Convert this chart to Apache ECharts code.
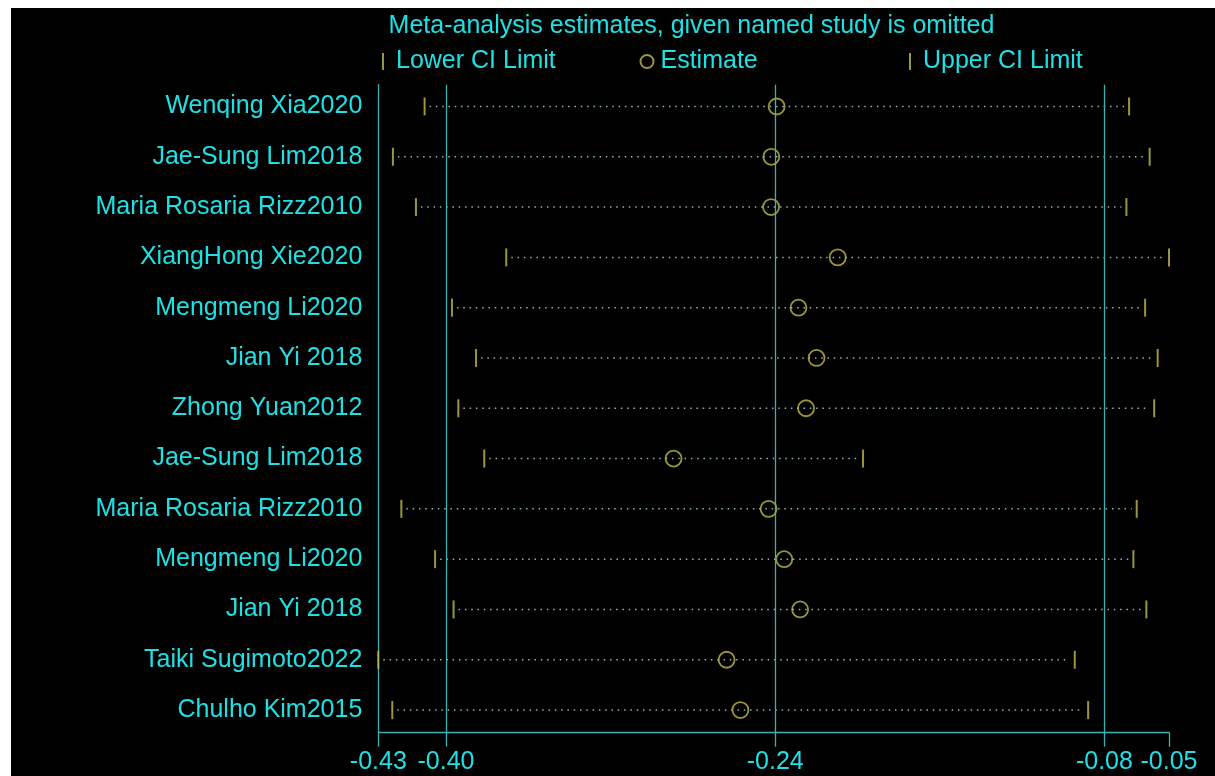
<!DOCTYPE html>
<html>
<head>
<meta charset="utf-8">
<script src="https://cdn.jsdelivr.net/npm/echarts@6/dist/echarts.min.js"></script>
<style>
  html, body { margin: 0; padding: 0; background: #fff; width: 1215px; height: 776px; overflow: hidden; }
  #chart { position: absolute; left: 11px; top: 8px; width: 1204px; height: 768px; background: #000; }
</style>
</head>
<body>
<div id="chart"></div>
<script>
// Leave-one-out meta-analysis: pooled estimate and CI when each study is omitted
const studies = [
  'Wenqing Xia2020',
  'Jae-Sung Lim2018',
  'Maria Rosaria Rizz2010',
  'XiangHong Xie2020',
  'Mengmeng Li2020',
  'Jian Yi 2018',
  'Zhong Yuan2012',
  'Jae-Sung Lim2018',
  'Maria Rosaria Rizz2010',
  'Mengmeng Li2020',
  'Jian Yi 2018',
  'Taiki Sugimoto2022',
  'Chulho Kim2015'
];
const lowerCI  = [-0.4104, -0.4258, -0.4146, -0.3707, -0.3971, -0.3854, -0.3940, -0.3814, -0.4217, -0.4053, -0.3963, -0.4329, -0.4261];
const estimate = [-0.2393, -0.2419, -0.2420, -0.2096, -0.2287, -0.2199, -0.2250, -0.2894, -0.2432, -0.2356, -0.2279, -0.2636, -0.2569];
const upperCI  = [-0.0680, -0.0580, -0.0693, -0.0486, -0.0602, -0.0541, -0.0558, -0.1973, -0.0643, -0.0659, -0.0596, -0.0944, -0.0879];
// Full-data pooled result: lower limit, estimate, upper limit
const overallCI = [-0.40, -0.24, -0.08];

const xMin = Math.min(...lowerCI);
const xMax = Math.max(...upperCI);
const xTicks = [xMin, ...overallCI, xMax];
const rowIndex = studies.map((_, i) => i + 1);

const TEXT = '#1fe0e4';
const REF = '#3cb2b2';
const MARK = '#c2bb4c';
const DOT = '#8fb5ad';
const FONT = '"Liberation Sans", Arial, sans-serif';

const chart = echarts.init(document.getElementById('chart'));

const legendText = (pad) => ({ color: TEXT, fontSize: 25, fontFamily: FONT, padding: [0, 0, 0, pad] });

chart.setOption({
  backgroundColor: '#000',
  animation: false,
  title: {
    text: 'Meta-analysis estimates, given named study is omitted',
    left: 680.5,
    top: 6,
    padding: 0,
    textAlign: 'center',
    textStyle: { color: TEXT, fontSize: 25, fontWeight: 'normal', fontFamily: FONT }
  },
  legend: [
    { data: ['Lower CI Limit'], left: 371, top: 41, padding: 0, itemWidth: 2, itemHeight: 17,
      textStyle: legendText(7), selectedMode: false },
    { data: ['Estimate'], left: 628.5, top: 41, padding: 0, itemWidth: 13, itemHeight: 13,
      textStyle: legendText(2), selectedMode: false },
    { data: ['Upper CI Limit'], left: 898, top: 41, padding: 0, itemWidth: 2, itemHeight: 17,
      textStyle: legendText(7), selectedMode: false }
  ],
  grid: { left: 367.3, right: 46, top: 76.7, bottom: 43.3, containLabel: false },
  xAxis: {
    type: 'value',
    min: xMin,
    max: xMax,
    axisLine: { show: true, onZero: false, lineStyle: { color: REF, width: 1.3 } },
    axisTick: { show: true, length: 14, customValues: xTicks, lineStyle: { color: REF, width: 1.3 } },
    axisLabel: {
      customValues: xTicks,
      margin: 17,
      color: TEXT,
      fontSize: 25,
      fontFamily: FONT,
      formatter: (v) => v.toFixed(2)
    },
    splitLine: { show: false }
  },
  yAxis: {
    type: 'value',
    inverse: true,
    min: 0.567,
    max: 13.45,
    axisLine: { show: true, onZero: false, lineStyle: { color: REF, width: 1.3 } },
    axisTick: { show: false },
    axisLabel: {
      customValues: rowIndex,
      margin: 16,
      color: TEXT,
      fontSize: 25,
      fontFamily: FONT,
      formatter: (v) => studies[Math.round(v) - 1] || ''
    },
    splitLine: { show: false }
  },
  series: [
    {
      name: 'overall',
      type: 'line',
      data: [],
      z: 1,
      markLine: {
        silent: true,
        symbol: ['none', 'none'],
        label: { show: false },
        lineStyle: { color: REF, width: 1.3, type: 'solid' },
        data: overallCI.map((v) => ({ xAxis: v }))
      }
    },
    {
      name: 'ci',
      type: 'custom',
      z: 2,
      silent: true,
      encode: { x: [0, 1], y: 2 },
      data: studies.map((_, i) => [lowerCI[i], upperCI[i], i + 1]),
      renderItem: (params, api) => {
        const y = api.value(2);
        const p1 = api.coord([api.value(0), y]);
        const p2 = api.coord([api.value(1), y]);
        return {
          type: 'line',
          shape: { x1: p1[0] + 5, y1: p1[1], x2: p2[0] - 5, y2: p2[1] },
          style: { stroke: DOT, lineWidth: 1.5, lineDash: [1.5, 4.8] }
        };
      }
    },
    {
      name: 'Lower CI Limit',
      type: 'scatter',
      z: 3,
      symbol: 'rect',
      symbolSize: [2, 18],
      itemStyle: { color: MARK },
      data: studies.map((_, i) => [lowerCI[i], i + 1])
    },
    {
      name: 'Estimate',
      type: 'scatter',
      z: 3,
      symbol: 'circle',
      symbolSize: 16,
      itemStyle: { color: 'transparent', borderColor: MARK, borderWidth: 1.8 },
      data: studies.map((_, i) => [estimate[i], i + 1])
    },
    {
      name: 'Upper CI Limit',
      type: 'scatter',
      z: 3,
      symbol: 'rect',
      symbolSize: [2, 18],
      itemStyle: { color: MARK },
      data: studies.map((_, i) => [upperCI[i], i + 1])
    }
  ]
});
</script>
</body>
</html>
